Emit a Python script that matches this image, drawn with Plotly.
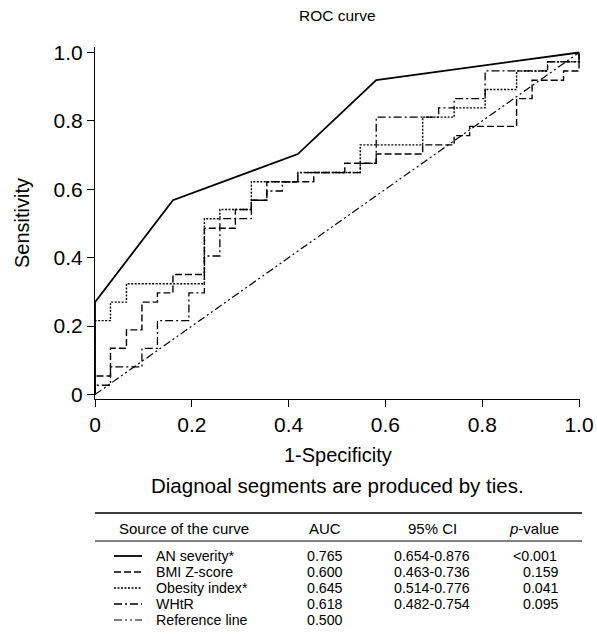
import plotly.graph_objects as go

# ---------------- data ----------------
tick_vals = [0, 0.2, 0.4, 0.6, 0.8, 1.0]
tick_text = ["0", "0.2", "0.4", "0.6", "0.8", "1.0"]

# AN severity (polyline ROC)
an_x = [0, 0, 0.161, 0.419, 0.581, 1.0]
an_y = [0, 0.270, 0.568, 0.703, 0.919, 1.0]

# BMI Z-score (step curve; points where the curve rises)
bmi_x = [0, 0, 0.032, 0.065, 0.097, 0.129, 0.161, 0.226, 0.290, 0.323, 0.355,
         0.452, 0.516, 0.581, 0.677, 0.742, 0.774, 0.871, 0.903, 0.968, 1.0]
bmi_y = [0, 0.054, 0.135, 0.189, 0.270, 0.297, 0.351, 0.486, 0.541, 0.568, 0.622,
         0.649, 0.676, 0.703, 0.730, 0.757, 0.784, 0.865, 0.919, 0.946, 1.0]

# Obesity index
obe_x = [0, 0, 0.032, 0.065, 0.226, 0.258, 0.323, 0.419, 0.548, 0.677, 0.742,
         0.806, 0.871, 0.935, 1.0]
obe_y = [0, 0.216, 0.270, 0.324, 0.514, 0.541, 0.622, 0.649, 0.730, 0.811, 0.838,
         0.892, 0.946, 0.973, 1.0]

# WHtR
wht_x = [0, 0, 0.032, 0.097, 0.129, 0.194, 0.226, 0.258, 0.323, 0.355, 0.387,
         0.419, 0.548, 0.581, 0.710, 0.742, 0.806, 0.935, 1.0]
wht_y = [0, 0.027, 0.081, 0.135, 0.216, 0.297, 0.405, 0.514, 0.568, 0.595, 0.622,
         0.649, 0.676, 0.811, 0.838, 0.865, 0.946, 0.973, 1.0]

# Reference line
ref_x = [0, 1]
ref_y = [0, 1]

# table
curve_names = ["AN severity*", "BMI Z-score", "Obesity index*", "WHtR", "Reference line"]
auc_vals = ["0.765", "0.600", "0.645", "0.618", "0.500"]
ci_vals = ["0.654-0.876", "0.463-0.736", "0.514-0.776", "0.482-0.754", ""]
p_vals = ["<0.001", "0.159", "0.041", "0.095", ""]

# ---------------- layout helpers ----------------
FONT = "Liberation Sans, Arial, sans-serif"
W, H = 597, 637
# plot area in page pixels: x 95..580, y 47..399
L, T = 95, 47
R = W - 580
B = H - 399
PW, PH = W - L - R, H - T - B

def pxx(px):
    return (px - L) / PW

def pyy(py):
    return (T + PH - py) / PH

styles = {
    "solid": dict(color="black", width=1.8, dash="solid"),
    "dash": dict(color="black", width=1.4, dash="7px,3px"),
    "dot": dict(color="black", width=1.4, dash="2px,1.5px"),
    "dashdot": dict(color="black", width=1.3, dash="8px,3px,2px,3px"),
    "ref": dict(color="black", width=1.2, dash="8px,3px,2px,3px,2px,3px"),
}

fig = go.Figure()
fig.add_trace(go.Scatter(x=ref_x, y=ref_y, mode="lines", line=styles["ref"], hoverinfo="skip"))
fig.add_trace(go.Scatter(x=wht_x, y=wht_y, mode="lines", line=dict(**styles["dashdot"], shape="hv")))
fig.add_trace(go.Scatter(x=bmi_x, y=bmi_y, mode="lines", line=dict(**styles["dash"], shape="hv")))
fig.add_trace(go.Scatter(x=obe_x, y=obe_y, mode="lines", line=dict(**styles["dot"], shape="hv")))
fig.add_trace(go.Scatter(x=an_x, y=an_y, mode="lines", line=styles["solid"]))

axis_common = dict(
    showgrid=False, zeroline=False, showline=True, linecolor="black", linewidth=1.2,
    ticks="outside", ticklen=7, tickwidth=1.2, tickcolor="black",
    tickvals=tick_vals, ticktext=tick_text, automargin=False,
    ticklabeloverflow="allow",
    tickfont=dict(family=FONT, size=21, color="black"),
)

fig.update_layout(
    width=W, height=H, autosize=False,
    margin=dict(l=L, r=R, t=T, b=B, pad=0, autoexpand=False),
    paper_bgcolor="white", plot_bgcolor="white",
    showlegend=False,
    xaxis=dict(range=[0, 1.002], **axis_common),
    yaxis=dict(range=[-0.0132, 1.0161], **axis_common),
)

ann = []
def txt(text, x, y, size, xanchor="center", angle=0):
    ann.append(dict(text=text, x=pxx(x), y=pyy(y), xref="paper", yref="paper",
                    showarrow=False, xanchor=xanchor, yanchor="middle", textangle=angle,
                    font=dict(family=FONT, size=size, color="black")))

txt("ROC curve", 337, 16, 15.5)
txt("Sensitivity", 22, 223, 20, angle=-90)
txt("1-Specificity", 338, 455, 20)
txt("Diagnoal segments are produced by ties.", 337, 485, 20.5)

# table header
HS = 15
TS = 14.2
txt("Source of the curve", 184, 528, HS)
txt("AUC", 325, 528, HS)
txt("95% CI", 432, 528, HS)
txt("<i>p</i>-value", 534, 528, HS)

rows_y = [556, 572, 588, 604, 620]
leg_styles = ["solid", "dash", "dot", "dashdot", "ref"]
shapes = []
shapes.append(dict(type="line", xref="paper", yref="paper", x0=pxx(95), x1=pxx(582),
                   y0=pyy(513), y1=pyy(513), line=dict(color="black", width=1.5)))
shapes.append(dict(type="line", xref="paper", yref="paper", x0=pxx(95), x1=pxx(582),
                   y0=pyy(541), y1=pyy(541), line=dict(color="black", width=1)))
for i, ry in enumerate(rows_y):
    st = styles[leg_styles[i]]
    shapes.append(dict(type="line", xref="paper", yref="paper", x0=pxx(114), x1=pxx(142),
                       y0=pyy(ry), y1=pyy(ry),
                       line=dict(color="black", width=st["width"], dash=st["dash"])))
    txt(curve_names[i], 154, ry, TS, xanchor="left")
    txt(auc_vals[i], 325, ry, TS)
    if ci_vals[i]:
        txt(ci_vals[i], 432, ry, TS)
    if p_vals[i]:
        if p_vals[i].startswith("<"):
            txt("&lt;0.001", 535, ry, TS)
        else:
            txt(p_vals[i], 561, ry, TS, xanchor="right")

fig.update_layout(annotations=ann, shapes=shapes)
# remove the default 8px body margin so the figure fills the window exactly
fig.write_html("out.html",
               config={"displayModeBar": False},
               post_script="document.body.style.margin='0';document.body.style.overflow='hidden';")
